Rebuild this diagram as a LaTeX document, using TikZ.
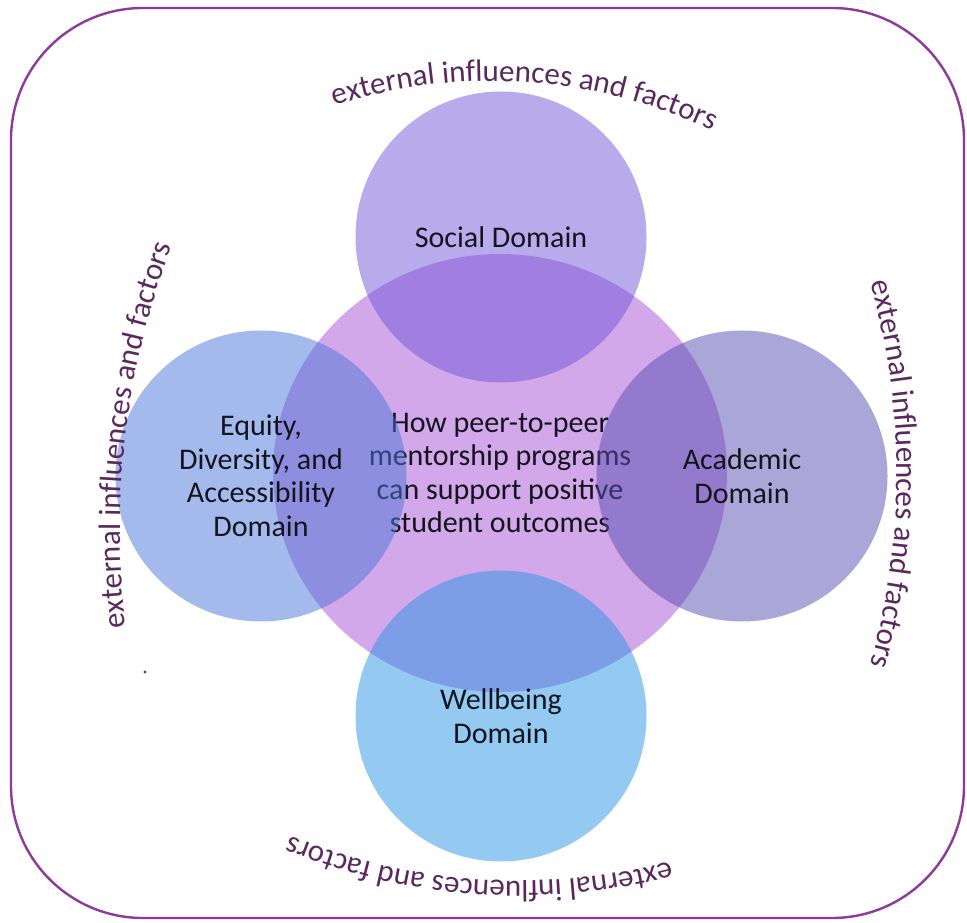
\documentclass[tikz,border=0pt]{standalone}
\usepackage{fontspec}
\setmainfont{Carlito}
\usetikzlibrary{shapes.geometric,decorations.text}

\definecolor{framecol}{RGB}{142,58,154}
\definecolor{arctext}{RGB}{90,40,95}
\definecolor{coreP}{RGB}{210,168,234}
\definecolor{socialP}{RGB}{113,87,217}
\definecolor{equityB}{RGB}{75,117,217}
\definecolor{academicP}{RGB}{87,77,177}
\definecolor{wellB}{RGB}{41,149,229}
\definecolor{ink}{RGB}{20,20,30}

\tikzset{
  bodytext/.style={text=ink, align=center, font=\fontsize{30}{33.5}\selectfont},
  corebox/.style={ellipse, inner sep=0pt, minimum width=454pt, minimum height=438pt,
    fill=coreP, draw=none, bodytext},
  domcircle/.style={circle, inner sep=0pt, minimum size=291pt, draw=none,
    fill opacity=0.5, text opacity=1, bodytext},
  outerlabel/.style={decorate, decoration={text along path, text align=center,
    text color=arctext,
    text={|\fontsize{31}{31}\selectfont|external influences and factors}}}
}

\begin{document}
\begin{tikzpicture}[x=1pt, y=1pt]
  \useasboundingbox (0,0) rectangle (967,922);

  % outer frame
  \draw[framecol, line width=2.4pt, rounded corners=132pt] (11,4) rectangle (964,914);

  % central topic
  \node[corebox] (core) at (500,449) {How peer-to-peer\\mentorship programs\\can support positive\\student outcomes};

  % four domains, translucent over the centre
  \node[domcircle, fill=socialP]   (social)   at (501,685) {Social Domain};
  \node[domcircle, fill=equityB]   (equity)   at (261,446) {Equity,\\Diversity, and\\Accessibility\\Domain};
  \node[domcircle, fill=academicP] (academic) at (742,446) {Academic\\Domain};
  \node[domcircle, fill=wellB]     (wellbeing) at (501,206) {Wellbeing\\Domain};

  % curved captions around the diagram
  \coordinate (ctop)    at (492,331);
  \coordinate (cright)  at (201,448);
  \coordinate (cleft)   at (920,392);
  \coordinate (cbottom) at (519,641);
  \path[outerlabel] ([shift={(110.2:510)}]ctop) arc[start angle=110.2, end angle=62.2, radius=510];
  \path[outerlabel] ([shift={(18.5:696)}]cright) arc[start angle=18.5, end angle=-18.5, radius=696];
  \path[outerlabel] ([shift={(191.1:800)}]cleft) arc[start angle=191.1, end angle=155.1, radius=800];
  \path[outerlabel] ([shift={(-72.9:600)}]cbottom) arc[start angle=-72.9, end angle=-114.9, radius=600];

  % stray dot
  \fill[gray!60!black] (145,250) circle[radius=1.6];
\end{tikzpicture}
\end{document}
